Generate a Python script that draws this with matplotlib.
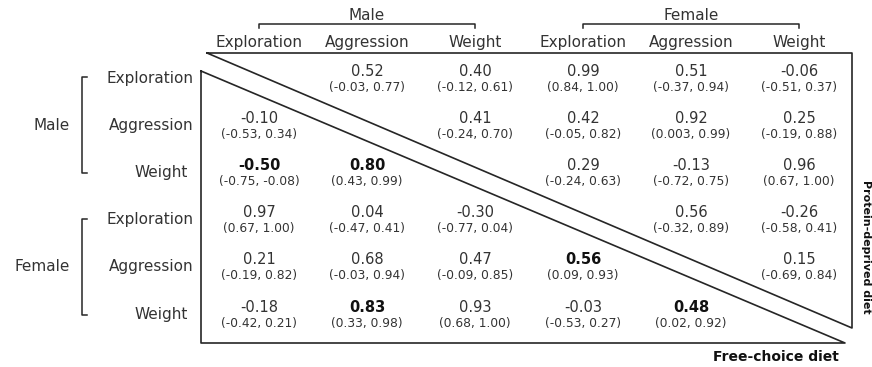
import matplotlib
matplotlib.use('Agg')
import matplotlib.pyplot as plt

plt.rcParams['font.family'] = ['DejaVu Sans']

# traits and groups
traits = ['Exploration', 'Aggression', 'Weight']
sexes = ['Male', 'Female']

# correlation estimates, rows/cols = Male(Exp, Agg, W), Female(Exp, Agg, W)
# upper triangle = protein-deprived diet, lower triangle = free-choice diet
r_vals = [
    [None, 0.52, 0.40, 0.99, 0.51, -0.06],
    [-0.10, None, 0.41, 0.42, 0.92, 0.25],
    [-0.50, 0.80, None, 0.29, -0.13, 0.96],
    [0.97, 0.04, -0.30, None, 0.56, -0.26],
    [0.21, 0.68, 0.47, 0.56, None, 0.15],
    [-0.18, 0.83, 0.93, -0.03, 0.48, None],
]
ci_low = [
    [None, -0.03, -0.12, 0.84, -0.37, -0.51],
    [-0.53, None, -0.24, -0.05, 0.003, -0.19],
    [-0.75, 0.43, None, -0.24, -0.72, 0.67],
    [0.67, -0.47, -0.77, None, -0.32, -0.58],
    [-0.19, -0.03, -0.09, 0.09, None, -0.69],
    [-0.42, 0.33, 0.68, -0.53, 0.02, None],
]
ci_high = [
    [None, 0.77, 0.61, 1.00, 0.94, 0.37],
    [0.34, None, 0.70, 0.82, 0.99, 0.88],
    [-0.08, 0.99, None, 0.63, 0.75, 1.00],
    [1.00, 0.41, 0.04, None, 0.89, 0.41],
    [0.82, 0.94, 0.85, 0.93, None, 0.84],
    [0.21, 0.98, 1.00, 0.27, 0.92, None],
]
# cells printed in bold
bold_cells = [(2, 0), (2, 1), (4, 3), (5, 1), (5, 4)]


def fmt(v):
    # two decimals unless that would lose digits (e.g. 0.003)
    return f'{v:.2f}' if round(v, 2) == v else f'{v:.3f}'


TXT = '#333333'
LINE = '#262626'

fig = plt.figure(figsize=(8.72, 3.67), dpi=100)
ax = fig.add_axes([0, 0, 1, 1])
ax.set_xlim(0, 872)
ax.set_ylim(367, 0)
ax.axis('off')

col_x = [259 + 108 * j for j in range(6)]
row_y = [78 + 47.2 * i for i in range(6)]

# column headers
for j, x in enumerate(col_x):
    ax.text(x, 42, traits[j % 3], ha='center', va='center', fontsize=11, color=TXT)
# row labels (Weight sits a little further left in the original)
for i, y in enumerate(row_y):
    lx = 188 if i % 3 == 2 else 193
    ax.text(lx, y, traits[i % 3], ha='right', va='center', fontsize=11, color=TXT)

# sex brackets on top and left
for k, sex in enumerate(sexes):
    x0, x1 = col_x[3 * k], col_x[3 * k + 2]
    ax.plot([x0, x0, x1, x1], [28, 24, 24, 28], color=LINE, lw=1.1)
    ax.text((x0 + x1) / 2, 15, sex, ha='center', va='center', fontsize=11, color=TXT)
    y0, y1 = row_y[3 * k] - 1, row_y[3 * k + 2] + 1
    ax.plot([87, 82, 82, 87], [y0, y0, y1, y1], color=LINE, lw=1.1)
    ax.text(70, (y0 + y1) / 2, sex, ha='right', va='center', fontsize=11, color=TXT)

# triangles
ax.plot([207, 852, 852, 207], [53, 53, 328, 53], color=LINE, lw=1.2)
ax.plot([201, 201, 845, 201], [71, 343, 343, 71], color=LINE, lw=1.2)

# cell values
for i in range(6):
    for j in range(6):
        if r_vals[i][j] is None:
            continue
        b = (i, j) in bold_cells
        ax.text(col_x[j], row_y[i] - 7, fmt(r_vals[i][j]), ha='center', va='center',
                fontsize=10.5, color='#111111' if b else TXT,
                fontweight='bold' if b else 'normal')
        ax.text(col_x[j], row_y[i] + 9, f'({fmt(ci_low[i][j])}, {fmt(ci_high[i][j])})',
                ha='center', va='center', fontsize=8.8, color=TXT)

ax.text(839, 357, 'Free-choice diet', ha='right', va='center', fontsize=10,
        fontweight='bold', color='#111111')
ax.text(866, 247, 'Protein-deprived diet', ha='center', va='center', fontsize=8,
        fontweight='bold', color='#111111', rotation=-90)

fig.savefig('out.png', dpi=100)
